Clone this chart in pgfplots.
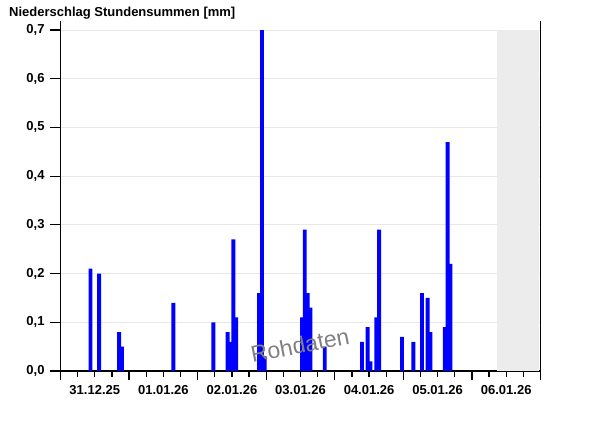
\documentclass[border=0pt]{standalone}
\usepackage{pgfplots}
\pgfplotsset{compat=1.18}
\usepackage{fontspec}
\setmainfont{Liberation Sans}
\definecolor{barblue}{RGB}{0,0,255}
\definecolor{futgray}{RGB}{236,236,236}
\definecolor{gridgray}{RGB}{232,232,232}
\definecolor{wmgray}{RGB}{128,128,128}

\pgfplotstableread{
h v
10.5 0.21
13.5 0.20
20.5 0.08
21.5 0.05
39.5 0.14
53.5 0.10
58.5 0.08
59.5 0.06
60.5 0.27
61.5 0.11
69.5 0.16
70.5 0.70
71.5 0.03
84.5 0.11
85.5 0.29
86.5 0.16
87.5 0.13
92.5 0.05
105.5 0.06
107.5 0.09
108.5 0.02
110.5 0.11
111.5 0.29
119.5 0.07
123.5 0.06
126.5 0.16
128.5 0.15
129.5 0.08
134.5 0.09
135.5 0.47
136.5 0.22
}\raindata

\begin{document}
\begin{tikzpicture}
\useasboundingbox (0,0) rectangle (600bp,426bp);
\node[anchor=base west, font=\bfseries\fontsize{13bp}{15bp}\selectfont, inner sep=0pt] at (9bp,409.3bp) {Niederschlag Stundensummen [mm]};
\begin{axis}[
  at={(60.5bp,55bp)}, anchor=south west,
  scale only axis, width=480bp, height=350bp,
  xmin=0, xmax=168, ymin=0, ymax=0.7185,
  axis x line*=bottom, axis y line*=left,
  axis line style={line width=1.2bp, black},
  clip=false,
  tick align=outside,
  major tick length=11bp, minor tick length=6bp,
  tick style={black, line width=1.2bp},
  ytick={0,0.1,0.2,0.3,0.4,0.5,0.6,0.7},
  yticklabels={{0,0},{0,1},{0,2},{0,3},{0,4},{0,5},{0,6},{0,7}},
  yticklabel style={xshift=-1.5bp},
  ymajorgrids, grid style={gridgray, line width=0.8bp},
  xtick={0,24,48,72,96,120,144,168},
  xticklabels={31.12.25,01.01.26,02.01.26,03.01.26,04.01.26,05.01.26,06.01.26,{}},
  minor x tick num=3,
  xtick style={/pgfplots/major tick length=9bp},
  tick label style={font=\bfseries\fontsize{13bp}{15bp}\selectfont},
  xticklabel style={xshift=34.29bp},
]
\addplot[fill=futgray, draw=none, forget plot] coordinates {(152.9,0) (152.9,0.7) (167.4,0.7) (167.4,0)} -- cycle;
\addplot[ybar, bar width=1.35, bar shift=0pt, fill=barblue, draw=none] table[x=h, y=v] {\raindata};
\addplot[black, line width=1.2bp, forget plot] coordinates {(168,0) (168,0.7185)};
\node[rotate=11, font=\fontsize{23bp}{25bp}\selectfont, text=wmgray, inner sep=0pt] at (rel axis cs:0.499,0.074) {Rohdaten};
\end{axis}
\end{tikzpicture}
\end{document}
